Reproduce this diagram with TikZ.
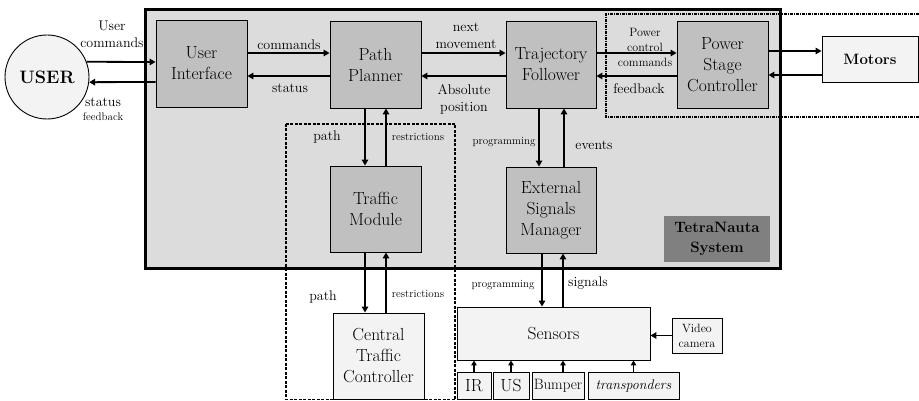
\documentclass[tikz,border=0pt]{standalone}
\usetikzlibrary{arrows.meta}
\definecolor{sysgray}{RGB}{220,220,220}
\definecolor{modgray}{RGB}{192,192,192}
\definecolor{litegray}{RGB}{243,243,243}
\definecolor{labgray}{RGB}{128,128,128}
\begin{document}
\begin{tikzpicture}[x=1pt,y=-1pt,
  box/.style={draw=black, line width=0.9pt, fill=modgray, align=center, inner sep=0pt, font=\rmfamily\fontsize{17.5}{21}\selectfont},
  lbox/.style={draw=black, line width=0.9pt, fill=litegray, align=center, inner sep=0pt, font=\rmfamily\fontsize{17.5}{21}\selectfont},
  arr/.style={line width=1.8pt, -{Triangle[length=6pt,width=6.5pt]}},
  sarr/.style={line width=1.4pt, -{Triangle[length=5pt,width=5.5pt]}},
  lab/.style={inner sep=0pt, align=center, font=\rmfamily\fontsize{14}{17}\selectfont},
  slab/.style={inner sep=0pt, align=center, font=\rmfamily\fontsize{11}{15}\selectfont}]
\useasboundingbox (0,0) rectangle (919,401);

% helper coordinates
\coordinate (cy51) at (0,51);
\coordinate (cy53) at (0,53);
\coordinate (cy62) at (0,62);
\coordinate (cy75) at (0,75);
\coordinate (cy76) at (0,76);
\coordinate (cy82) at (0,82);
\coordinate (cx365) at (365,0);
\coordinate (cx386) at (386,0);
\coordinate (cx539) at (539,0);
\coordinate (cx564) at (564,0);
\coordinate (cx542) at (542,0);
\coordinate (cx563) at (563,0);

% system background
\fill[sysgray] (145,10) rectangle (780,268);
% dashed groups
\draw[line width=1.2pt, dash pattern=on 3pt off 1.5pt] (286,124) rectangle (455,399.5);
\draw[line width=1.2pt, dash pattern=on 3pt off 1pt on 1pt off 1pt] (919,14) -- (606,14) -- (606,117) -- (919,117);
% system border
\draw[line width=3pt] (145,10) rectangle (780,268);

% nodes
\node[draw=black, line width=0.9pt, fill=litegray, circle, minimum size=84pt, inner sep=0pt, font=\rmfamily\fontsize{18}{21}\selectfont\bfseries] (user) at (47,77) {USER};
\node[box, minimum width=91pt, minimum height=87pt] (ui) at (201.5,63.5) {User\\Interface};
\node[box, minimum width=91pt, minimum height=87pt] (pp) at (375.5,64.5) {Path\\Planner};
\node[box, minimum width=90pt, minimum height=87pt] (tf) at (551,64.5) {Trajectory\\Follower};
\node[box, minimum width=91pt, minimum height=87pt] (psc) at (722.5,64.5) {Power\\Stage\\Controller};
\node[box, minimum width=91pt, minimum height=86pt] (tm) at (375.5,209) {Traffic\\Module};
\node[box, minimum width=90pt, minimum height=86pt] (esm) at (551,210) {External\\Signals\\Manager};
\node[lbox, minimum width=91pt, minimum height=86pt] (ctc) at (378.5,356) {Central\\Traffic\\Controller};
\node[lbox, minimum width=193pt, minimum height=53pt] (sensors) at (553.5,333.5) {Sensors};
\node[lbox, minimum width=50pt, minimum height=35pt, font=\rmfamily\fontsize{12}{15}\selectfont] (video) at (697,335.5) {Video\\camera};
\node[lbox, minimum width=34pt, minimum height=27pt] (ir) at (474,385.5) {IR};
\node[lbox, minimum width=36pt, minimum height=27pt] (us) at (511,385.5) {US};
\node[lbox, minimum width=52pt, minimum height=27pt, font=\rmfamily\fontsize{15}{18}\selectfont] (bumper) at (558,385.5) {Bumper};
\node[lbox, minimum width=91pt, minimum height=27pt, font=\rmfamily\fontsize{14}{17}\selectfont\itshape] (trans) at (633.5,385.5) {transponders};
\node[lbox, minimum width=96pt, minimum height=46pt, font=\rmfamily\fontsize{15}{18}\selectfont\bfseries] (motors) at (870,59) {Motors};
\node[fill=labgray, minimum width=106pt, minimum height=46pt, inner sep=0pt, align=center, font=\rmfamily\fontsize{15}{20}\selectfont\bfseries] (tns) at (717,239) {TetraNauta\\System};

% labels
\node[lab] (lusercmd) at (112,34) {User\\commands};
\node[lab] (lstatus1) at (103,102) {status};
\node[slab] (lfeed1) at (103,117) {feedback};
\node[lab] (lcmd) at (289,45) {commands};
\node[lab] (lstatus2) at (290,88) {status};
\node[lab] (lnext) at (466,36) {next\\movement};
\node[lab] (labs) at (464,99) {Absolute\\position};
\node[inner sep=0pt, align=center, font=\rmfamily\fontsize{12}{15}\selectfont] (lpower) at (645,47) {Power\\control\\commands};
\node[lab] (lfeed2) at (639,89) {feedback};
\node[lab] (lpath1) at (327,137) {path};
\node[slab] (lrestr1) at (418,137) {restrictions};
\node[slab] (lprog1) at (504,142) {programming};
\node[lab] (levents) at (594,145) {events};
\node[lab] (lpath2) at (323,297) {path};
\node[slab] (lrestr2) at (418,294) {restrictions};
\node[slab] (lprog2) at (503,285) {programming};
\node[lab] (lsignals) at (588,283) {signals};

% connectors
\draw[arr] (user.21) -- (ui.west |- cy62);
\draw[arr] (ui.west |- cy82) -- (user.-7);
\draw[arr] (ui.east |- cy53) -- (pp.west |- cy53);
\draw[arr] (pp.west |- cy76) -- (ui.east |- cy76);
\draw[arr] (pp.east |- cy53) -- (tf.west |- cy53);
\draw[arr] (tf.west |- cy76) -- (pp.east |- cy76);
\draw[arr] (tf.east |- cy53) -- (psc.west |- cy53);
\draw[arr] (psc.west |- cy76) -- (tf.east |- cy76);
\draw[arr] (psc.east |- cy51) -- (motors.west |- cy51);
\draw[arr] (motors.west |- cy75) -- (psc.east |- cy75);

\draw[arr] (pp.south -| cx365) -- (tm.north -| cx365);
\draw[arr] (tm.north -| cx386) -- (pp.south -| cx386);
\draw[arr] (tm.south -| cx365) -- (ctc.north -| cx365);
\draw[arr] (ctc.north -| cx386) -- (tm.south -| cx386);
\draw[arr] (tf.south -| cx539) -- (esm.north -| cx539);
\draw[arr] (esm.north -| cx564) -- (tf.south -| cx564);
\draw[arr] (esm.south -| cx542) -- (sensors.north -| cx542);
\draw[arr] (sensors.north -| cx563) -- (esm.south -| cx563);
\draw[arr] (video.west) -- (sensors.east |- video.west);

\draw[sarr] (ir.north) -- (sensors.south -| ir.north);
\draw[sarr] (us.north) -- (sensors.south -| us.north);
\draw[sarr] (bumper.north -| cx563) -- (sensors.south -| cx563);
\draw[sarr] (trans.north) -- (sensors.south -| trans.north);
\end{tikzpicture}
\end{document}
